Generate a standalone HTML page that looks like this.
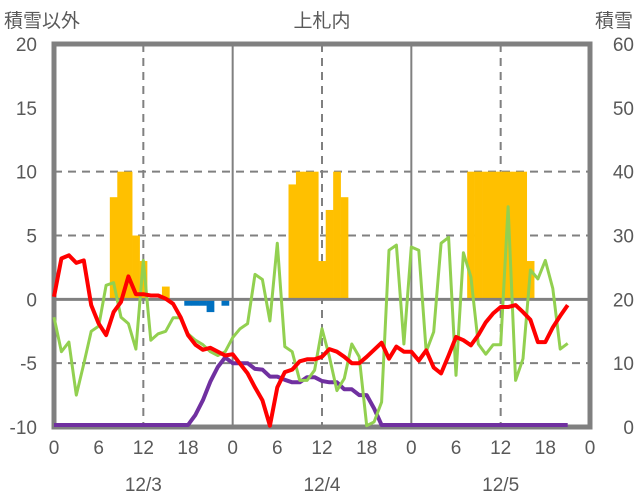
<!DOCTYPE html>
<html><head><meta charset="utf-8">
<style>
html,body{margin:0;padding:0;background:#fff;}
svg{display:block;font-family:"Liberation Sans","Noto Sans CJK JP",sans-serif;}
</style></head>
<body>
<svg id="chart" width="636" height="501" viewBox="0 0 636 501" xmlns="http://www.w3.org/2000/svg">
<text x="4" y="27" font-size="19" fill="#595959">積雪以外</text>
<text x="322" y="27" font-size="19" fill="#595959" text-anchor="middle">上札内</text>
<text x="633" y="27" font-size="19" fill="#595959" text-anchor="end">積雪</text>
<g id="grid"></g>
<g id="bars"></g>
<g id="axes"></g>
<g id="lines"></g>
</svg>
<script>
const leftTicks = [20, 15, 10, 5, 0, -5, -10];
const rightTicks = [60, 50, 40, 30, 20, 10, 0];
const hourTicks = [0, 6, 12, 18, 0, 6, 12, 18, 0, 6, 12, 18, 0];
const dateLabels = ["12/3", "12/4", "12/5"];
const redTemp = [0.2,3.2,3.45,2.85,3.05,-0.45,-1.9,-2.8,-1.0,-0.2,1.8,0.4,0.4,0.3,0.3,0.05,-0.35,-1.4,-2.8,-3.55,-3.95,-3.8,-4.1,-4.4,
 -4.3,-5.05,-5.8,-6.9,-7.9,-9.9,-6.9,-5.7,-5.5,-4.85,-4.7,-4.7,-4.5,-3.9,-4.1,-4.5,-5.0,-5.0,-4.5,-3.95,-3.4,-4.65,-3.7,-4.1,
 -4.1,-4.8,-4.0,-5.35,-5.8,-4.4,-2.95,-3.2,-3.6,-2.8,-1.8,-1.1,-0.6,-0.6,-0.45,-1.0,-1.6,-3.35,-3.35,-2.2,-1.3,-0.45];
const greenSeries = [-1.4,-4.1,-3.35,-7.5,-5.05,-2.5,-2.1,1.1,1.3,-1.4,-1.9,-3.9,3.05,-3.2,-2.7,-2.5,-1.45,-1.45,-2.7,-3.2,-3.55,-4.1,-4.4,-4.1,
 -3.0,-2.3,-1.9,1.95,1.55,-1.7,4.4,-3.7,-4.1,-6.35,-6.35,-5.55,-2.3,-4.5,-7.15,-6.2,-3.5,-4.5,-9.9,-9.6,-8.05,3.85,4.25,-3.5,
 4.1,3.85,-4.1,-2.55,4.4,4.85,-5.95,3.65,1.75,-3.5,-4.3,-3.55,-3.55,7.25,-6.35,-4.65,2.3,1.6,3.05,0.85,-3.9,-3.45];
const snowDepth = [0,0,0,0,0,0,0,0,0,0,0,0,0,0,0,0,0,0,0.3,1.9,4.2,7.1,9.4,10.9,
 10,10,10,9.1,9.0,7.9,7.9,7.4,7.0,7.0,7.8,7.8,7.2,7.0,7.0,5.9,5.9,5.0,5.0,2.9,0,0,0,0,
 0,0,0,0,0,0,0,0,0,0,0,0,0,0,0,0,0,0,0,0,0,0];
const snowfallHours = [8,9,10,11,12,15, 32,33,34,35,36,37,38,39, 56,57,58,59,60,61,62,63,64];
const snowfallValues = [8,10,10,5,3,1, 9,10,10,10,3,7,10,8, 10,10,10,10,10,10,10,10,3];
const meltHours = [18,19,20,21,23];
const meltValues = [-0.5,-0.5,-0.5,-1,-0.5];

const X0=54, X1=590, Y0=44, Y1=427;
const xh = h => X0 + (X1-X0)*h/72;
const yl = v => Y0 + (20 - v)*(Y1-Y0)/30;
const yr = v => Math.min(Y0 + (60 - v)*(Y1-Y0)/60, 425);
const NS="http://www.w3.org/2000/svg";
function mk(tag, parent, attrs){const e=document.createElementNS(NS,tag);for(const k in attrs)e.setAttribute(k,attrs[k]);parent.appendChild(e);return e;}
const grid=document.getElementById('grid'), bars=document.getElementById('bars'), lines=document.getElementById('lines'), axes=document.getElementById('axes');

[10,5,-5].forEach(v=>{
  const l=mk('line',grid,{x1:X0,x2:X1,y1:yl(v),y2:yl(v),stroke:'#808080','stroke-width':2,'stroke-dasharray':'8,6'});
  
  
});
[12,36,60].forEach(h=>{
  const l=mk('line',grid,{x1:xh(h),x2:xh(h),y1:Y0,y2:Y1,stroke:'#808080','stroke-width':2,'stroke-dasharray':'8,6'});
  
  
});
[24,48].forEach(h=>{
  const l=mk('line',grid,{x1:xh(h),x2:xh(h),y1:Y0,y2:Y1,stroke:'#808080','stroke-width':2});
  
  
});
const bw=(X1-X0)/72;
snowfallHours.forEach((h,i)=>{
  const v=snowfallValues[i];
  const r=mk('rect',bars,{x:xh(h)-bw/2,y:yl(v),width:bw+0.3,height:yl(0)-yl(v),fill:'#ffc000'});
  
  
});
meltHours.forEach((h,i)=>{
  const v=meltValues[i];
  const r=mk('rect',bars,{x:xh(h)-bw/2,y:yl(0),width:bw+0.3,height:yl(v)-yl(0),fill:'#0070c0'});
  
  
});
const z=mk('line',bars,{x1:X0,x2:X1,y1:yl(0),y2:yl(0),stroke:'#808080','stroke-width':3});


function poly(arr,fy,color,w,name){
  const pts=arr.map((v,i)=>xh(i).toFixed(1)+','+fy(v).toFixed(1)).join(' ');
  const p=mk('polyline',lines,{points:pts,fill:'none',stroke:color,'stroke-width':w,'stroke-linejoin':'round'});
  
  
}
const fr=mk('rect',axes,{x:X0,y:Y0,width:X1-X0,height:Y1-Y0,fill:'none',stroke:'#808080','stroke-width':5});


poly(snowDepth,yr,'#7030a0',4,'snow-depth-line');
poly(greenSeries,yl,'#92d050',3,'green-series-line');
poly(redTemp,yl,'#ff0000',4,'temperature-line');
leftTicks.forEach(v=>{
  const t=mk('text',axes,{x:37,y:yl(v)+7,'font-size':19,fill:'#595959','text-anchor':'end'});
  t.textContent=v;
  
  
});
rightTicks.forEach(v=>{
  const t=mk('text',axes,{x:634,y:Y0 + (60 - v)*(Y1-Y0)/60+7,'font-size':19,fill:'#595959','text-anchor':'end'});
  t.textContent=v;
  
  
});
hourTicks.forEach((v,i)=>{
  const t=mk('text',axes,{x:xh(i*6),y:454,'font-size':19,fill:'#595959','text-anchor':'middle'});
  t.textContent=v;
  
  
});
dateLabels.forEach((d,i)=>{
  const t=mk('text',axes,{x:xh(12+24*i),y:491,'font-size':19,fill:'#595959','text-anchor':'middle'});
  t.textContent=d;
  
  
});
</script>
</body></html>
